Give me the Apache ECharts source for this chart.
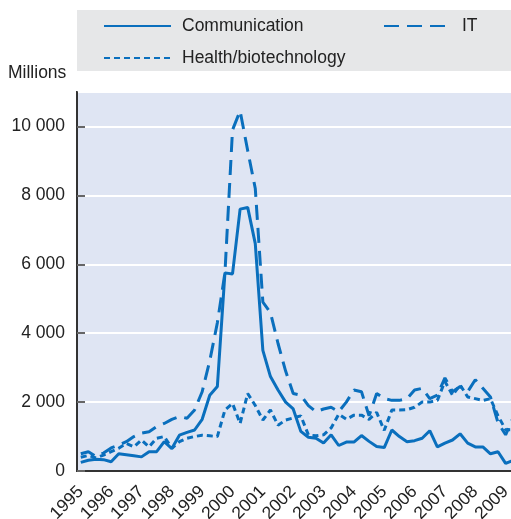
<!DOCTYPE html>
<html>
<head>
<meta charset="utf-8">
<style>
  html, body { margin: 0; padding: 0; background: #fff; overflow: hidden; }
  #chart { width: 517px; height: 519px; }
</style>
<script src="https://cdn.jsdelivr.net/npm/echarts@6/dist/echarts.min.js"></script>
</head>
<body>
<div id="chart"></div>
<script>
// quarterly, 1995Q1 .. 2009Q2 (the last quarter runs off the right edge)
const years = ['1995', '1996', '1997', '1998', '1999', '2000', '2001', '2002',
  '2003', '2004', '2005', '2006', '2007', '2008', '2009']
const quarters = []
years.forEach(y => ['Q1', 'Q2', 'Q3', 'Q4'].forEach(q => quarters.push(y + ' ' + q)))
quarters.length = 58

const communication = [
  250, 310, 340, 330, 270, 500, 470, 440, 410, 560, 560, 850,
  650, 1040, 1120, 1190, 1500, 2200, 2450, 5750, 5720, 7600, 7650, 6600,
  3500, 2740, 2350, 2000, 1800, 1150, 980, 950, 810, 1050, 740, 840,
  840, 1030, 860, 710, 680, 1190, 1000, 850, 880, 950, 1170, 700,
  810, 900, 1080, 810, 700, 700, 500, 560, 220, 310
]
const it = [
  500, 560, 420, 520, 670, 750, 850, 1000, 1100, 1140, 1290, 1380,
  1500, 1580, 1530, 1770, 2300, 3200, 4300, 5750, 9900, 10450, 9300, 8200,
  4900, 4600, 3700, 2900, 2250, 2200, 1900, 1720, 1800, 1850, 1720, 2000,
  2350, 2300, 1600, 2250, 2100, 2050, 2050, 2100, 2350, 2400, 2100, 2200,
  2700, 2300, 2450, 2300, 2650, 2400, 2150, 1400, 1050, 1550
]
const health = [
  400, 450, 380, 460, 560, 660, 800, 700, 900, 700, 950, 1000,
  660, 850, 950, 1000, 1040, 1020, 1000, 1770, 1960, 1380, 2250, 1900,
  1480, 1770, 1330, 1480, 1540, 1600, 1050, 1020, 1050, 1250, 1650, 1500,
  1620, 1620, 1500, 1700, 1180, 1770, 1770, 1780, 1850, 2000, 2000, 2050,
  2600, 2200, 2500, 2150, 2100, 2050, 2100, 1600, 1200, 1200
]

const blue = '#0a6fbd'
const font = '"Liberation Sans", Arial, sans-serif'
const fs = 17.5

const chart = echarts.init(document.getElementById('chart'))

chart.setOption({
  animation: false,
  textStyle: { fontFamily: font },
  graphic: [
    { type: 'rect', shape: { x: 77, y: 10, width: 440, height: 61 }, style: { fill: '#e6e7e8' }, z: 0 },
    { type: 'text', left: 8, top: 64, style: { text: 'Millions', fontSize: fs, fontFamily: font, fill: '#222' } }
  ],
  legend: [
    { data: ['Communication'], left: 98, top: 12 },
    { data: ['IT'], left: 378, top: 12 },
    { data: ['Health/biotechnology'], left: 98, top: 44 }
  ].map(l => Object.assign(l, {
    itemWidth: 67,
    itemHeight: 14,
    itemStyle: { opacity: 0 },
    textStyle: { fontSize: fs, color: '#222', fontFamily: font, padding: [0, 0, 0, 6] }
  })),
  grid: {
    left: 77, top: 92, right: 0, bottom: 48,
    outerBoundsMode: 'none',
    show: true, backgroundColor: '#dfe5f3', borderColor: '#333', borderWidth: 2
  },
  xAxis: {
    type: 'category',
    data: quarters,
    boundaryGap: true,
    axisLine: { lineStyle: { color: '#333', width: 2 } },
    axisTick: { show: false },
    axisLabel: {
      interval: (i) => i % 4 === 0,
      formatter: (v) => v.slice(0, 4),
      rotate: 45,
      margin: 18,
      fontSize: fs,
      color: '#222',
      fontFamily: font
    }
  },
  yAxis: {
    type: 'value',
    min: 0,
    max: 11000,
    interval: 2000,
    axisLine: { show: true, lineStyle: { color: '#333', width: 2 } },
    axisTick: { show: true, inside: true, length: 8, lineStyle: { color: '#666', width: 2 } },
    splitLine: { lineStyle: { color: '#fff', width: 2 } },
    axisLabel: {
      showMaxLabel: false,
      margin: 12,
      fontSize: fs,
      color: '#222',
      fontFamily: font,
      formatter: (v) => String(v).replace(/\B(?=(\d{3})+(?!\d))/g, ' ')
    }
  },
  series: [
    {
      name: 'Communication', type: 'line', data: communication, symbol: 'none',
      lineStyle: { color: blue, width: 3 }, itemStyle: { color: blue }
    },
    {
      name: 'IT', type: 'line', data: it, symbol: 'none',
      lineStyle: { color: blue, width: 3, type: [15, 8] }, itemStyle: { color: blue }
    },
    {
      name: 'Health/biotechnology', type: 'line', data: health, symbol: 'none',
      lineStyle: { color: blue, width: 3, type: [6, 4] }, itemStyle: { color: blue }
    }
  ]
})
</script>
</body>
</html>
